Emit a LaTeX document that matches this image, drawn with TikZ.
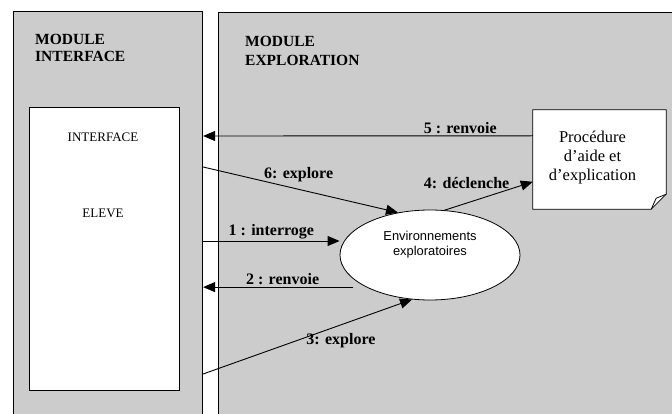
\documentclass[tikz,border=0pt]{standalone}
\usepackage{fontspec}
\setmainfont{Liberation Serif}
\newfontfamily\arialfont{Liberation Sans}
\usetikzlibrary{arrows.meta,shapes.geometric}

\begin{document}
\begin{tikzpicture}[x=1pt,y=-1pt,
    module/.style={draw, line width=1.1pt, fill=black!20, inner sep=0pt, anchor=north west},
    titre/.style={anchor=base west, inner sep=0pt, align=left, font=\fontsize{15.5}{17.5}\selectfont\bfseries},
    fleche/.style={-{Triangle[length=12pt,width=10pt]}, line width=0.9pt},
    etiq/.style={inner sep=2pt, font=\fontsize{16}{18}\selectfont\bfseries},
    boite/.style={draw, fill=white, line width=0.8pt}]
    \useasboundingbox (0,0) rectangle (672,414);
    \clip (0,0) rectangle (672,414);

    % modules
    \node[module, minimum width=189pt, minimum height=420pt] (modint) at (13,11) {};
    \node[module, minimum width=470pt, minimum height=420pt] (modexp) at (218,12) {};
    \node[titre] (titint) at (35,62) {MODULE\\INTERFACE};
    \node[titre] (titexp) at (245,66) {MODULE\\[1.5pt]EXPLORATION};

    % interface eleve
    \node[boite, anchor=north west, minimum width=150pt, minimum height=283pt] (eleve) at (29,107) {};
    \node[font=\fontsize{13}{15}\selectfont] (lblif) at (103,137) {INTERFACE};
    \node[font=\fontsize{13}{15}\selectfont] (lbleleve) at (103,213) {ELEVE};

    % environnements
    \node[boite, ellipse, inner sep=0pt, minimum width=180pt, minimum height=90pt] (env) at (430,255) {};
    \node[font=\arialfont\fontsize{12.9}{15}\selectfont, align=center] (lblenv) at (430,245) {Environnements\\exploratoires};

    % procedure d'aide
    \node[minimum width=133pt, minimum height=99pt, inner sep=0pt] (proc) at (599.5,159.5) {};
    \filldraw[boite] (proc.north west) -- (proc.north east) -- ([yshift=15pt]proc.south east)
        -- ([xshift=-15pt]proc.south east) -- (proc.south west) -- cycle;
    \draw[line width=0.8pt] ([xshift=-15pt]proc.south east) -- ++(5,-11) -- ([yshift=15pt]proc.south east);
    \node[font=\fontsize{16.5}{18.7}\selectfont, align=center] (lblproc) at ([xshift=-7pt,yshift=2pt]proc.center)
        {Procédure\\d’aide et\\d’explication};

    % echanges
    \draw[fleche] (modint.east |- 0,241) -- (env.west |- 0,241)
        node[etiq, pos=0.5, above] {1 : interroge};
    \draw[fleche] ([xshift=-13pt]env.south west) -- (modint.east |- env.south west)
        node[etiq, pos=0.47, above] {2 : renvoie};
    \draw[fleche] (modint.east |- 0,374) -- (env.248)
        node[etiq, pos=0.66, below=6pt] {3: explore};
    \draw[fleche] (env.72) -- ([yshift=-72pt]proc.north west)
        node[etiq, pos=0.25, above=12pt] {4: déclenche};
    \draw[fleche] ([yshift=-26pt]proc.north west) -- (modint.east |- 0,136)
        node[etiq, pos=0.22, above] {5 : renvoie};
    \draw[fleche] (modint.east |- 0,167) -- (env.127)
        node[etiq, pos=0.49, above=5pt] {6: explore};
\end{tikzpicture}
\end{document}
